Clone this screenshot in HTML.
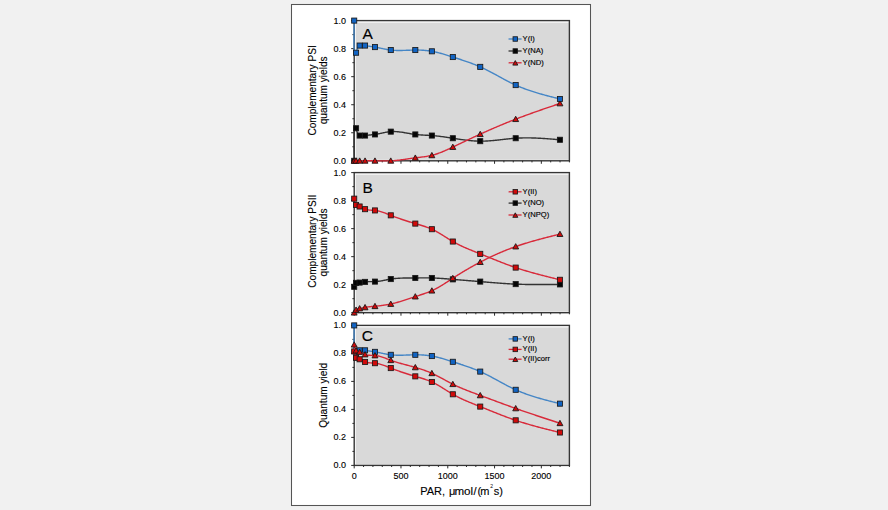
<!DOCTYPE html>
<html><head><meta charset="utf-8"><style>
html,body{margin:0;padding:0;background:#f1f1f1;}
body{width:888px;height:510px;overflow:hidden;position:relative;}
svg{position:absolute;left:0;top:0;}
text{font-family:"Liberation Sans",sans-serif;fill:#000;stroke:#000;stroke-width:0.12px;}
.tk{font-size:9px;}
.at{font-size:10.1px;}
.par{font-size:11px;}
.pl{font-size:15.5px;fill:#000;stroke-width:0.15px;}
.lg{font-size:7.6px;fill:#000;stroke-width:0.15px;}
</style></head><body>
<svg width="888" height="510" viewBox="0 0 888 510">
<rect x="291.5" y="4.5" width="299" height="501" fill="#ffffff" stroke="#555555" stroke-width="1.05"/>
<rect x="355.70" y="22.60" width="213.70" height="137.20" fill="#d9d9d9"/>
<rect x="354.20" y="20.60" width="215.20" height="140.20" fill="none" stroke="#353535" stroke-width="1.4"/>
<line x1="351.20" y1="160.80" x2="354.20" y2="160.80" stroke="#2a2a2a" stroke-width="1"/>
<text x="346.00" y="163.80" class="tk" text-anchor="end">0.0</text>
<line x1="352.40" y1="146.78" x2="354.20" y2="146.78" stroke="#2a2a2a" stroke-width="1"/>
<line x1="351.20" y1="132.76" x2="354.20" y2="132.76" stroke="#2a2a2a" stroke-width="1"/>
<text x="346.00" y="135.76" class="tk" text-anchor="end">0.2</text>
<line x1="352.40" y1="118.74" x2="354.20" y2="118.74" stroke="#2a2a2a" stroke-width="1"/>
<line x1="351.20" y1="104.72" x2="354.20" y2="104.72" stroke="#2a2a2a" stroke-width="1"/>
<text x="346.00" y="107.72" class="tk" text-anchor="end">0.4</text>
<line x1="352.40" y1="90.70" x2="354.20" y2="90.70" stroke="#2a2a2a" stroke-width="1"/>
<line x1="351.20" y1="76.68" x2="354.20" y2="76.68" stroke="#2a2a2a" stroke-width="1"/>
<text x="346.00" y="79.68" class="tk" text-anchor="end">0.6</text>
<line x1="352.40" y1="62.66" x2="354.20" y2="62.66" stroke="#2a2a2a" stroke-width="1"/>
<line x1="351.20" y1="48.64" x2="354.20" y2="48.64" stroke="#2a2a2a" stroke-width="1"/>
<text x="346.00" y="51.64" class="tk" text-anchor="end">0.8</text>
<line x1="352.40" y1="34.62" x2="354.20" y2="34.62" stroke="#2a2a2a" stroke-width="1"/>
<line x1="351.20" y1="20.60" x2="354.20" y2="20.60" stroke="#2a2a2a" stroke-width="1"/>
<text x="346.00" y="23.60" class="tk" text-anchor="end">1.0</text>
<line x1="354.20" y1="160.80" x2="354.20" y2="163.80" stroke="#2a2a2a" stroke-width="1"/>
<line x1="363.56" y1="160.80" x2="363.56" y2="162.40" stroke="#2a2a2a" stroke-width="1"/>
<line x1="372.91" y1="160.80" x2="372.91" y2="162.40" stroke="#2a2a2a" stroke-width="1"/>
<line x1="382.27" y1="160.80" x2="382.27" y2="162.40" stroke="#2a2a2a" stroke-width="1"/>
<line x1="391.63" y1="160.80" x2="391.63" y2="162.40" stroke="#2a2a2a" stroke-width="1"/>
<line x1="400.98" y1="160.80" x2="400.98" y2="163.80" stroke="#2a2a2a" stroke-width="1"/>
<line x1="410.34" y1="160.80" x2="410.34" y2="162.40" stroke="#2a2a2a" stroke-width="1"/>
<line x1="419.70" y1="160.80" x2="419.70" y2="162.40" stroke="#2a2a2a" stroke-width="1"/>
<line x1="429.05" y1="160.80" x2="429.05" y2="162.40" stroke="#2a2a2a" stroke-width="1"/>
<line x1="438.41" y1="160.80" x2="438.41" y2="162.40" stroke="#2a2a2a" stroke-width="1"/>
<line x1="447.77" y1="160.80" x2="447.77" y2="163.80" stroke="#2a2a2a" stroke-width="1"/>
<line x1="457.12" y1="160.80" x2="457.12" y2="162.40" stroke="#2a2a2a" stroke-width="1"/>
<line x1="466.48" y1="160.80" x2="466.48" y2="162.40" stroke="#2a2a2a" stroke-width="1"/>
<line x1="475.83" y1="160.80" x2="475.83" y2="162.40" stroke="#2a2a2a" stroke-width="1"/>
<line x1="485.19" y1="160.80" x2="485.19" y2="162.40" stroke="#2a2a2a" stroke-width="1"/>
<line x1="494.55" y1="160.80" x2="494.55" y2="163.80" stroke="#2a2a2a" stroke-width="1"/>
<line x1="503.90" y1="160.80" x2="503.90" y2="162.40" stroke="#2a2a2a" stroke-width="1"/>
<line x1="513.26" y1="160.80" x2="513.26" y2="162.40" stroke="#2a2a2a" stroke-width="1"/>
<line x1="522.62" y1="160.80" x2="522.62" y2="162.40" stroke="#2a2a2a" stroke-width="1"/>
<line x1="531.97" y1="160.80" x2="531.97" y2="162.40" stroke="#2a2a2a" stroke-width="1"/>
<line x1="541.33" y1="160.80" x2="541.33" y2="163.80" stroke="#2a2a2a" stroke-width="1"/>
<line x1="550.69" y1="160.80" x2="550.69" y2="162.40" stroke="#2a2a2a" stroke-width="1"/>
<line x1="560.04" y1="160.80" x2="560.04" y2="162.40" stroke="#2a2a2a" stroke-width="1"/>
<line x1="569.40" y1="160.80" x2="569.40" y2="162.40" stroke="#2a2a2a" stroke-width="1"/>
<rect x="355.70" y="174.60" width="213.70" height="137.10" fill="#d9d9d9"/>
<rect x="354.20" y="172.60" width="215.20" height="140.10" fill="none" stroke="#353535" stroke-width="1.4"/>
<line x1="351.20" y1="312.70" x2="354.20" y2="312.70" stroke="#2a2a2a" stroke-width="1"/>
<text x="346.00" y="315.70" class="tk" text-anchor="end">0.0</text>
<line x1="352.40" y1="298.69" x2="354.20" y2="298.69" stroke="#2a2a2a" stroke-width="1"/>
<line x1="351.20" y1="284.68" x2="354.20" y2="284.68" stroke="#2a2a2a" stroke-width="1"/>
<text x="346.00" y="287.68" class="tk" text-anchor="end">0.2</text>
<line x1="352.40" y1="270.67" x2="354.20" y2="270.67" stroke="#2a2a2a" stroke-width="1"/>
<line x1="351.20" y1="256.66" x2="354.20" y2="256.66" stroke="#2a2a2a" stroke-width="1"/>
<text x="346.00" y="259.66" class="tk" text-anchor="end">0.4</text>
<line x1="352.40" y1="242.65" x2="354.20" y2="242.65" stroke="#2a2a2a" stroke-width="1"/>
<line x1="351.20" y1="228.64" x2="354.20" y2="228.64" stroke="#2a2a2a" stroke-width="1"/>
<text x="346.00" y="231.64" class="tk" text-anchor="end">0.6</text>
<line x1="352.40" y1="214.63" x2="354.20" y2="214.63" stroke="#2a2a2a" stroke-width="1"/>
<line x1="351.20" y1="200.62" x2="354.20" y2="200.62" stroke="#2a2a2a" stroke-width="1"/>
<text x="346.00" y="203.62" class="tk" text-anchor="end">0.8</text>
<line x1="352.40" y1="186.61" x2="354.20" y2="186.61" stroke="#2a2a2a" stroke-width="1"/>
<line x1="351.20" y1="172.60" x2="354.20" y2="172.60" stroke="#2a2a2a" stroke-width="1"/>
<text x="346.00" y="175.60" class="tk" text-anchor="end">1.0</text>
<line x1="354.20" y1="312.70" x2="354.20" y2="315.70" stroke="#2a2a2a" stroke-width="1"/>
<line x1="363.56" y1="312.70" x2="363.56" y2="314.30" stroke="#2a2a2a" stroke-width="1"/>
<line x1="372.91" y1="312.70" x2="372.91" y2="314.30" stroke="#2a2a2a" stroke-width="1"/>
<line x1="382.27" y1="312.70" x2="382.27" y2="314.30" stroke="#2a2a2a" stroke-width="1"/>
<line x1="391.63" y1="312.70" x2="391.63" y2="314.30" stroke="#2a2a2a" stroke-width="1"/>
<line x1="400.98" y1="312.70" x2="400.98" y2="315.70" stroke="#2a2a2a" stroke-width="1"/>
<line x1="410.34" y1="312.70" x2="410.34" y2="314.30" stroke="#2a2a2a" stroke-width="1"/>
<line x1="419.70" y1="312.70" x2="419.70" y2="314.30" stroke="#2a2a2a" stroke-width="1"/>
<line x1="429.05" y1="312.70" x2="429.05" y2="314.30" stroke="#2a2a2a" stroke-width="1"/>
<line x1="438.41" y1="312.70" x2="438.41" y2="314.30" stroke="#2a2a2a" stroke-width="1"/>
<line x1="447.77" y1="312.70" x2="447.77" y2="315.70" stroke="#2a2a2a" stroke-width="1"/>
<line x1="457.12" y1="312.70" x2="457.12" y2="314.30" stroke="#2a2a2a" stroke-width="1"/>
<line x1="466.48" y1="312.70" x2="466.48" y2="314.30" stroke="#2a2a2a" stroke-width="1"/>
<line x1="475.83" y1="312.70" x2="475.83" y2="314.30" stroke="#2a2a2a" stroke-width="1"/>
<line x1="485.19" y1="312.70" x2="485.19" y2="314.30" stroke="#2a2a2a" stroke-width="1"/>
<line x1="494.55" y1="312.70" x2="494.55" y2="315.70" stroke="#2a2a2a" stroke-width="1"/>
<line x1="503.90" y1="312.70" x2="503.90" y2="314.30" stroke="#2a2a2a" stroke-width="1"/>
<line x1="513.26" y1="312.70" x2="513.26" y2="314.30" stroke="#2a2a2a" stroke-width="1"/>
<line x1="522.62" y1="312.70" x2="522.62" y2="314.30" stroke="#2a2a2a" stroke-width="1"/>
<line x1="531.97" y1="312.70" x2="531.97" y2="314.30" stroke="#2a2a2a" stroke-width="1"/>
<line x1="541.33" y1="312.70" x2="541.33" y2="315.70" stroke="#2a2a2a" stroke-width="1"/>
<line x1="550.69" y1="312.70" x2="550.69" y2="314.30" stroke="#2a2a2a" stroke-width="1"/>
<line x1="560.04" y1="312.70" x2="560.04" y2="314.30" stroke="#2a2a2a" stroke-width="1"/>
<line x1="569.40" y1="312.70" x2="569.40" y2="314.30" stroke="#2a2a2a" stroke-width="1"/>
<rect x="355.70" y="327.40" width="213.70" height="137.00" fill="#d9d9d9"/>
<rect x="354.20" y="325.40" width="215.20" height="140.00" fill="none" stroke="#353535" stroke-width="1.4"/>
<line x1="351.20" y1="465.40" x2="354.20" y2="465.40" stroke="#2a2a2a" stroke-width="1"/>
<text x="346.00" y="468.40" class="tk" text-anchor="end">0.0</text>
<line x1="352.40" y1="451.40" x2="354.20" y2="451.40" stroke="#2a2a2a" stroke-width="1"/>
<line x1="351.20" y1="437.40" x2="354.20" y2="437.40" stroke="#2a2a2a" stroke-width="1"/>
<text x="346.00" y="440.40" class="tk" text-anchor="end">0.2</text>
<line x1="352.40" y1="423.40" x2="354.20" y2="423.40" stroke="#2a2a2a" stroke-width="1"/>
<line x1="351.20" y1="409.40" x2="354.20" y2="409.40" stroke="#2a2a2a" stroke-width="1"/>
<text x="346.00" y="412.40" class="tk" text-anchor="end">0.4</text>
<line x1="352.40" y1="395.40" x2="354.20" y2="395.40" stroke="#2a2a2a" stroke-width="1"/>
<line x1="351.20" y1="381.40" x2="354.20" y2="381.40" stroke="#2a2a2a" stroke-width="1"/>
<text x="346.00" y="384.40" class="tk" text-anchor="end">0.6</text>
<line x1="352.40" y1="367.40" x2="354.20" y2="367.40" stroke="#2a2a2a" stroke-width="1"/>
<line x1="351.20" y1="353.40" x2="354.20" y2="353.40" stroke="#2a2a2a" stroke-width="1"/>
<text x="346.00" y="356.40" class="tk" text-anchor="end">0.8</text>
<line x1="352.40" y1="339.40" x2="354.20" y2="339.40" stroke="#2a2a2a" stroke-width="1"/>
<line x1="351.20" y1="325.40" x2="354.20" y2="325.40" stroke="#2a2a2a" stroke-width="1"/>
<text x="346.00" y="328.40" class="tk" text-anchor="end">1.0</text>
<line x1="354.20" y1="465.40" x2="354.20" y2="468.40" stroke="#2a2a2a" stroke-width="1"/>
<line x1="363.56" y1="465.40" x2="363.56" y2="467.00" stroke="#2a2a2a" stroke-width="1"/>
<line x1="372.91" y1="465.40" x2="372.91" y2="467.00" stroke="#2a2a2a" stroke-width="1"/>
<line x1="382.27" y1="465.40" x2="382.27" y2="467.00" stroke="#2a2a2a" stroke-width="1"/>
<line x1="391.63" y1="465.40" x2="391.63" y2="467.00" stroke="#2a2a2a" stroke-width="1"/>
<line x1="400.98" y1="465.40" x2="400.98" y2="468.40" stroke="#2a2a2a" stroke-width="1"/>
<line x1="410.34" y1="465.40" x2="410.34" y2="467.00" stroke="#2a2a2a" stroke-width="1"/>
<line x1="419.70" y1="465.40" x2="419.70" y2="467.00" stroke="#2a2a2a" stroke-width="1"/>
<line x1="429.05" y1="465.40" x2="429.05" y2="467.00" stroke="#2a2a2a" stroke-width="1"/>
<line x1="438.41" y1="465.40" x2="438.41" y2="467.00" stroke="#2a2a2a" stroke-width="1"/>
<line x1="447.77" y1="465.40" x2="447.77" y2="468.40" stroke="#2a2a2a" stroke-width="1"/>
<line x1="457.12" y1="465.40" x2="457.12" y2="467.00" stroke="#2a2a2a" stroke-width="1"/>
<line x1="466.48" y1="465.40" x2="466.48" y2="467.00" stroke="#2a2a2a" stroke-width="1"/>
<line x1="475.83" y1="465.40" x2="475.83" y2="467.00" stroke="#2a2a2a" stroke-width="1"/>
<line x1="485.19" y1="465.40" x2="485.19" y2="467.00" stroke="#2a2a2a" stroke-width="1"/>
<line x1="494.55" y1="465.40" x2="494.55" y2="468.40" stroke="#2a2a2a" stroke-width="1"/>
<line x1="503.90" y1="465.40" x2="503.90" y2="467.00" stroke="#2a2a2a" stroke-width="1"/>
<line x1="513.26" y1="465.40" x2="513.26" y2="467.00" stroke="#2a2a2a" stroke-width="1"/>
<line x1="522.62" y1="465.40" x2="522.62" y2="467.00" stroke="#2a2a2a" stroke-width="1"/>
<line x1="531.97" y1="465.40" x2="531.97" y2="467.00" stroke="#2a2a2a" stroke-width="1"/>
<line x1="541.33" y1="465.40" x2="541.33" y2="468.40" stroke="#2a2a2a" stroke-width="1"/>
<line x1="550.69" y1="465.40" x2="550.69" y2="467.00" stroke="#2a2a2a" stroke-width="1"/>
<line x1="560.04" y1="465.40" x2="560.04" y2="467.00" stroke="#2a2a2a" stroke-width="1"/>
<line x1="569.40" y1="465.40" x2="569.40" y2="467.00" stroke="#2a2a2a" stroke-width="1"/>
<text x="354.20" y="478.8" class="tk" text-anchor="middle">0</text>
<text x="400.98" y="478.8" class="tk" text-anchor="middle">500</text>
<text x="447.77" y="478.8" class="tk" text-anchor="middle">1000</text>
<text x="494.55" y="478.8" class="tk" text-anchor="middle">1500</text>
<text x="541.33" y="478.8" class="tk" text-anchor="middle">2000</text>
<path d="M354.20,160.80 L354.18,159.26 L354.16,157.72 L354.13,156.18 L354.11,154.65 L354.09,153.14 L354.07,151.63 L354.06,150.15 L354.04,148.68 L354.03,147.24 L354.02,145.82 L354.01,144.42 L354.01,143.06 L354.00,141.73 L354.00,140.44 L354.01,139.18 L354.02,137.97 L354.03,136.80 L354.05,135.67 L354.07,134.60 L354.10,133.57 L354.13,132.61 L354.17,131.69 L354.21,130.84 L354.26,130.06 L354.31,129.34 L354.38,128.68 L354.45,128.10 L354.52,127.59 L354.60,127.16 L354.69,126.81 L354.79,126.54 L354.90,126.36 L355.01,126.26 L355.14,126.26 L355.27,126.34 L355.41,126.53 L355.56,126.81 L355.72,127.19 L355.89,127.68 L356.07,128.27 L356.26,128.97 L356.47,129.75 L356.70,130.58 L356.97,131.43 L357.27,132.29 L357.62,133.11 L358.03,133.88 L358.49,134.56 L359.02,135.13 L359.63,135.56 L360.39,135.86 L361.24,135.98 L362.16,135.98 L363.11,135.88 L364.08,135.73 L365.05,135.56 L365.93,135.43 L366.80,135.31 L367.65,135.21 L368.49,135.11 L369.32,135.03 L370.14,134.95 L370.95,134.88 L371.76,134.80 L372.57,134.73 L373.37,134.64 L374.17,134.55 L374.97,134.44 L375.75,134.33 L376.53,134.20 L377.31,134.06 L378.09,133.91 L378.87,133.75 L379.66,133.59 L380.45,133.43 L381.24,133.26 L382.03,133.09 L382.82,132.92 L383.61,132.75 L384.41,132.59 L385.20,132.43 L386.00,132.28 L386.80,132.14 L387.59,132.01 L388.39,131.90 L389.19,131.79 L389.99,131.71 L390.78,131.64 L391.60,131.59 L392.42,131.55 L393.23,131.54 L394.05,131.54 L394.87,131.56 L395.68,131.60 L396.50,131.65 L397.32,131.71 L398.13,131.78 L398.95,131.87 L399.77,131.96 L400.58,132.07 L401.40,132.18 L402.21,132.30 L403.03,132.43 L403.85,132.56 L404.66,132.70 L405.48,132.84 L406.30,132.99 L407.11,133.13 L407.93,133.28 L408.75,133.42 L409.57,133.56 L410.39,133.70 L411.20,133.84 L412.02,133.97 L412.84,134.10 L413.66,134.22 L414.48,134.34 L415.30,134.44 L416.13,134.54 L416.95,134.63 L417.78,134.71 L418.61,134.78 L419.44,134.85 L420.27,134.91 L421.09,134.97 L421.92,135.02 L422.75,135.06 L423.58,135.11 L424.41,135.15 L425.24,135.19 L426.07,135.23 L426.90,135.28 L427.72,135.32 L428.55,135.36 L429.38,135.41 L430.21,135.45 L431.03,135.51 L431.86,135.56 L432.67,135.62 L433.48,135.69 L434.28,135.76 L435.09,135.83 L435.90,135.91 L436.71,136.00 L437.51,136.08 L438.32,136.17 L439.13,136.27 L439.93,136.37 L440.74,136.47 L441.54,136.57 L442.35,136.68 L443.15,136.79 L443.96,136.90 L444.76,137.01 L445.57,137.13 L446.37,137.24 L447.18,137.36 L447.99,137.48 L448.79,137.61 L449.60,137.73 L450.40,137.85 L451.21,137.98 L452.01,138.10 L452.82,138.23 L453.62,138.35 L454.43,138.48 L455.23,138.60 L456.04,138.73 L456.84,138.85 L457.65,138.98 L458.45,139.10 L459.26,139.22 L460.06,139.34 L460.87,139.46 L461.67,139.57 L462.48,139.68 L463.29,139.80 L464.09,139.90 L464.90,140.01 L465.70,140.11 L466.51,140.21 L467.32,140.30 L468.12,140.40 L468.93,140.48 L469.74,140.57 L470.54,140.65 L471.35,140.72 L472.16,140.79 L472.97,140.85 L473.77,140.91 L474.58,140.97 L475.39,141.02 L476.20,141.06 L477.00,141.09 L477.81,141.12 L478.62,141.15 L479.42,141.16 L480.23,141.17 L481.04,141.17 L481.84,141.17 L482.65,141.16 L483.45,141.14 L484.26,141.12 L485.06,141.09 L485.87,141.05 L486.67,141.01 L487.48,140.96 L488.29,140.91 L489.09,140.86 L489.90,140.80 L490.70,140.73 L491.51,140.67 L492.31,140.60 L493.12,140.52 L493.92,140.45 L494.73,140.37 L495.54,140.28 L496.34,140.20 L497.15,140.11 L497.95,140.03 L498.76,139.94 L499.57,139.85 L500.37,139.76 L501.18,139.67 L501.98,139.57 L502.79,139.48 L503.60,139.39 L504.40,139.30 L505.21,139.21 L506.01,139.12 L506.82,139.03 L507.63,138.95 L508.43,138.86 L509.24,138.78 L510.05,138.70 L510.85,138.62 L511.66,138.55 L512.47,138.48 L513.27,138.41 L514.08,138.34 L514.89,138.28 L515.69,138.23 L516.50,138.18 L517.30,138.13 L518.10,138.09 L518.91,138.05 L519.71,138.01 L520.52,137.98 L521.32,137.96 L522.12,137.93 L522.93,137.92 L523.73,137.90 L524.54,137.89 L525.34,137.88 L526.14,137.88 L526.95,137.88 L527.75,137.88 L528.56,137.89 L529.36,137.89 L530.17,137.91 L530.97,137.92 L531.77,137.94 L532.58,137.96 L533.38,137.98 L534.19,138.01 L534.99,138.04 L535.80,138.07 L536.60,138.10 L537.41,138.14 L538.21,138.18 L539.02,138.22 L539.82,138.26 L540.63,138.30 L541.43,138.35 L542.24,138.40 L543.04,138.45 L543.85,138.50 L544.65,138.55 L545.46,138.61 L546.26,138.67 L547.07,138.72 L547.87,138.78 L548.68,138.84 L549.48,138.90 L550.29,138.97 L551.09,139.03 L551.90,139.10 L552.70,139.16 L553.51,139.23 L554.31,139.29 L555.12,139.36 L555.92,139.43 L556.73,139.50 L557.53,139.56 L558.34,139.63 L559.14,139.70 L559.95,139.77" fill="none" stroke="#333333" stroke-width="1.4"/>
<rect x="351.65" y="158.25" width="5.10" height="5.10" fill="#050505" stroke="#1a1a1a" stroke-width="0.85"/>
<rect x="353.52" y="125.72" width="5.10" height="5.10" fill="#050505" stroke="#1a1a1a" stroke-width="0.85"/>
<rect x="357.08" y="133.01" width="5.10" height="5.10" fill="#050505" stroke="#1a1a1a" stroke-width="0.85"/>
<rect x="362.50" y="133.01" width="5.10" height="5.10" fill="#050505" stroke="#1a1a1a" stroke-width="0.85"/>
<rect x="372.42" y="131.89" width="5.10" height="5.10" fill="#050505" stroke="#1a1a1a" stroke-width="0.85"/>
<rect x="388.23" y="129.09" width="5.10" height="5.10" fill="#050505" stroke="#1a1a1a" stroke-width="0.85"/>
<rect x="412.75" y="131.89" width="5.10" height="5.10" fill="#050505" stroke="#1a1a1a" stroke-width="0.85"/>
<rect x="429.31" y="133.01" width="5.10" height="5.10" fill="#050505" stroke="#1a1a1a" stroke-width="0.85"/>
<rect x="450.27" y="135.68" width="5.10" height="5.10" fill="#050505" stroke="#1a1a1a" stroke-width="0.85"/>
<rect x="477.68" y="138.62" width="5.10" height="5.10" fill="#050505" stroke="#1a1a1a" stroke-width="0.85"/>
<rect x="513.14" y="135.68" width="5.10" height="5.10" fill="#050505" stroke="#1a1a1a" stroke-width="0.85"/>
<rect x="557.40" y="137.22" width="5.10" height="5.10" fill="#050505" stroke="#1a1a1a" stroke-width="0.85"/>
<path d="M354.20,160.80 L355.14,160.80 L356.07,160.80 L356.96,160.80 L357.85,160.80 L358.74,160.80 L359.63,160.80 L360.53,160.80 L361.44,160.80 L362.34,160.80 L363.24,160.80 L364.15,160.80 L365.05,160.80 L365.88,160.80 L366.71,160.80 L367.53,160.79 L368.36,160.79 L369.19,160.79 L370.01,160.79 L370.84,160.78 L371.66,160.78 L372.49,160.79 L373.32,160.79 L374.14,160.79 L374.97,160.80 L375.80,160.81 L376.64,160.82 L377.47,160.83 L378.30,160.85 L379.14,160.86 L379.97,160.87 L380.80,160.89 L381.64,160.90 L382.47,160.91 L383.30,160.92 L384.14,160.92 L384.97,160.92 L385.80,160.92 L386.63,160.92 L387.46,160.91 L388.29,160.89 L389.12,160.87 L389.95,160.84 L390.78,160.80 L391.60,160.76 L392.42,160.71 L393.24,160.65 L394.06,160.59 L394.88,160.52 L395.69,160.44 L396.51,160.36 L397.33,160.28 L398.15,160.19 L398.96,160.09 L399.78,160.00 L400.59,159.89 L401.41,159.79 L402.23,159.68 L403.04,159.57 L403.86,159.46 L404.67,159.35 L405.49,159.23 L406.30,159.11 L407.12,159.00 L407.94,158.88 L408.75,158.76 L409.57,158.64 L410.39,158.53 L411.20,158.41 L412.02,158.29 L412.84,158.18 L413.66,158.07 L414.48,157.96 L415.30,157.86 L416.13,157.75 L416.97,157.65 L417.80,157.55 L418.64,157.45 L419.47,157.35 L420.31,157.25 L421.14,157.14 L421.98,157.04 L422.81,156.93 L423.64,156.82 L424.47,156.71 L425.30,156.59 L426.13,156.46 L426.95,156.32 L427.78,156.18 L428.60,156.03 L429.42,155.87 L430.23,155.70 L431.05,155.52 L431.86,155.33 L432.64,155.14 L433.41,154.93 L434.18,154.71 L434.95,154.49 L435.71,154.25 L436.48,154.00 L437.24,153.75 L437.99,153.49 L438.75,153.21 L439.50,152.93 L440.26,152.65 L441.01,152.35 L441.75,152.06 L442.50,151.75 L443.25,151.44 L443.99,151.12 L444.73,150.80 L445.47,150.47 L446.21,150.14 L446.95,149.81 L447.69,149.47 L448.42,149.13 L449.16,148.79 L449.89,148.45 L450.62,148.10 L451.35,147.76 L452.09,147.41 L452.82,147.06 L453.56,146.71 L454.30,146.35 L455.05,146.00 L455.79,145.65 L456.53,145.29 L457.27,144.94 L458.01,144.59 L458.76,144.23 L459.50,143.88 L460.24,143.53 L460.98,143.18 L461.72,142.82 L462.46,142.47 L463.20,142.12 L463.94,141.77 L464.68,141.42 L465.42,141.07 L466.16,140.72 L466.89,140.37 L467.63,140.02 L468.37,139.67 L469.11,139.32 L469.85,138.97 L470.59,138.63 L471.33,138.28 L472.07,137.93 L472.81,137.59 L473.55,137.24 L474.29,136.90 L475.04,136.55 L475.78,136.21 L476.52,135.87 L477.26,135.52 L478.00,135.18 L478.75,134.84 L479.49,134.50 L480.23,134.16 L480.96,133.83 L481.69,133.50 L482.42,133.17 L483.15,132.84 L483.88,132.51 L484.61,132.18 L485.34,131.85 L486.08,131.53 L486.81,131.20 L487.54,130.87 L488.27,130.55 L489.01,130.23 L489.74,129.90 L490.48,129.58 L491.21,129.26 L491.95,128.94 L492.68,128.62 L493.42,128.30 L494.15,127.98 L494.89,127.66 L495.63,127.35 L496.37,127.03 L497.11,126.72 L497.84,126.40 L498.58,126.09 L499.32,125.78 L500.06,125.47 L500.80,125.16 L501.54,124.85 L502.28,124.54 L503.03,124.23 L503.77,123.93 L504.51,123.62 L505.25,123.32 L506.00,123.01 L506.74,122.71 L507.48,122.41 L508.23,122.11 L508.97,121.81 L509.72,121.51 L510.46,121.21 L511.21,120.92 L511.96,120.62 L512.70,120.33 L513.45,120.03 L514.20,119.74 L514.95,119.45 L515.69,119.16 L516.45,118.87 L517.21,118.58 L517.96,118.29 L518.72,118.00 L519.48,117.71 L520.23,117.43 L520.99,117.14 L521.75,116.86 L522.51,116.57 L523.27,116.29 L524.03,116.01 L524.79,115.73 L525.55,115.45 L526.31,115.17 L527.07,114.89 L527.83,114.61 L528.59,114.34 L529.35,114.06 L530.11,113.79 L530.87,113.51 L531.63,113.24 L532.40,112.97 L533.16,112.69 L533.92,112.42 L534.68,112.15 L535.45,111.88 L536.21,111.61 L536.98,111.34 L537.74,111.08 L538.50,110.81 L539.27,110.54 L540.03,110.27 L540.80,110.01 L541.56,109.74 L542.33,109.48 L543.09,109.21 L543.86,108.95 L544.62,108.68 L545.39,108.42 L546.15,108.16 L546.92,107.89 L547.69,107.63 L548.45,107.37 L549.22,107.11 L549.98,106.85 L550.75,106.58 L551.52,106.32 L552.28,106.06 L553.05,105.80 L553.82,105.54 L554.58,105.28 L555.35,105.02 L556.12,104.76 L556.88,104.50 L557.65,104.24 L558.42,103.98 L559.18,103.72 L559.95,103.46" fill="none" stroke="#d82a3a" stroke-width="1.4"/>
<path d="M354.20,157.88 L357.15,163.19 L351.25,163.19 Z" fill="#d10a0a" stroke="#1a1a1a" stroke-width="0.9"/>
<path d="M356.07,157.88 L359.02,163.19 L353.12,163.19 Z" fill="#d10a0a" stroke="#1a1a1a" stroke-width="0.9"/>
<path d="M359.63,157.88 L362.58,163.19 L356.68,163.19 Z" fill="#d10a0a" stroke="#1a1a1a" stroke-width="0.9"/>
<path d="M365.05,157.88 L368.00,163.19 L362.10,163.19 Z" fill="#d10a0a" stroke="#1a1a1a" stroke-width="0.9"/>
<path d="M374.97,157.88 L377.92,163.19 L372.02,163.19 Z" fill="#d10a0a" stroke="#1a1a1a" stroke-width="0.9"/>
<path d="M390.78,157.88 L393.73,163.19 L387.83,163.19 Z" fill="#d10a0a" stroke="#1a1a1a" stroke-width="0.9"/>
<path d="M415.30,154.94 L418.25,160.25 L412.35,160.25 Z" fill="#d10a0a" stroke="#1a1a1a" stroke-width="0.9"/>
<path d="M431.86,152.41 L434.81,157.72 L428.91,157.72 Z" fill="#d10a0a" stroke="#1a1a1a" stroke-width="0.9"/>
<path d="M452.82,144.14 L455.77,149.45 L449.87,149.45 Z" fill="#d10a0a" stroke="#1a1a1a" stroke-width="0.9"/>
<path d="M480.23,131.24 L483.18,136.55 L477.28,136.55 Z" fill="#d10a0a" stroke="#1a1a1a" stroke-width="0.9"/>
<path d="M515.69,116.24 L518.64,121.55 L512.74,121.55 Z" fill="#d10a0a" stroke="#1a1a1a" stroke-width="0.9"/>
<path d="M559.95,100.54 L562.90,105.85 L557.00,105.85 Z" fill="#d10a0a" stroke="#1a1a1a" stroke-width="0.9"/>
<path d="M354.20,20.60 L354.18,22.12 L354.15,23.64 L354.13,25.15 L354.10,26.66 L354.08,28.15 L354.06,29.63 L354.04,31.09 L354.03,32.54 L354.01,33.96 L354.00,35.36 L353.99,36.74 L353.98,38.08 L353.98,39.39 L353.98,40.67 L353.98,41.90 L353.99,43.10 L354.00,44.25 L354.02,45.36 L354.04,46.42 L354.07,47.43 L354.10,48.39 L354.13,49.29 L354.18,50.12 L354.23,50.90 L354.28,51.61 L354.34,52.26 L354.41,52.83 L354.49,53.34 L354.57,53.76 L354.67,54.11 L354.77,54.38 L354.87,54.56 L354.99,54.66 L355.12,54.67 L355.25,54.59 L355.40,54.41 L355.55,54.14 L355.71,53.76 L355.89,53.29 L356.07,52.71 L356.29,51.95 L356.53,51.09 L356.80,50.18 L357.11,49.25 L357.48,48.33 L357.90,47.47 L358.39,46.69 L358.97,46.04 L359.63,45.56 L360.40,45.25 L361.25,45.12 L362.16,45.12 L363.11,45.22 L364.08,45.38 L365.05,45.56 L365.94,45.71 L366.80,45.86 L367.66,45.99 L368.50,46.12 L369.33,46.25 L370.15,46.37 L370.96,46.48 L371.77,46.60 L372.57,46.72 L373.37,46.84 L374.17,46.96 L374.97,47.10 L375.74,47.23 L376.52,47.38 L377.30,47.53 L378.08,47.68 L378.86,47.84 L379.65,48.00 L380.43,48.17 L381.22,48.33 L382.01,48.50 L382.80,48.66 L383.60,48.83 L384.39,48.99 L385.19,49.14 L385.99,49.30 L386.78,49.44 L387.58,49.58 L388.38,49.71 L389.18,49.83 L389.98,49.94 L390.78,50.04 L391.60,50.13 L392.41,50.21 L393.23,50.28 L394.04,50.33 L394.86,50.38 L395.67,50.42 L396.49,50.44 L397.30,50.46 L398.12,50.48 L398.94,50.48 L399.75,50.48 L400.57,50.47 L401.39,50.46 L402.20,50.44 L403.02,50.42 L403.84,50.40 L404.65,50.37 L405.47,50.34 L406.29,50.31 L407.11,50.28 L407.93,50.25 L408.74,50.22 L409.56,50.19 L410.38,50.16 L411.20,50.13 L412.02,50.10 L412.84,50.08 L413.66,50.06 L414.48,50.05 L415.30,50.04 L416.13,50.04 L416.96,50.04 L417.80,50.05 L418.63,50.07 L419.46,50.09 L420.30,50.12 L421.13,50.15 L421.96,50.20 L422.79,50.24 L423.62,50.30 L424.45,50.37 L425.28,50.44 L426.11,50.52 L426.93,50.60 L427.76,50.70 L428.58,50.80 L429.40,50.92 L430.22,51.04 L431.04,51.17 L431.86,51.30 L432.65,51.45 L433.44,51.60 L434.23,51.76 L435.01,51.92 L435.80,52.09 L436.58,52.27 L437.36,52.46 L438.14,52.65 L438.92,52.85 L439.70,53.06 L440.47,53.27 L441.25,53.48 L442.03,53.70 L442.80,53.92 L443.57,54.15 L444.35,54.38 L445.12,54.61 L445.89,54.85 L446.66,55.09 L447.43,55.33 L448.20,55.57 L448.97,55.82 L449.74,56.06 L450.51,56.31 L451.28,56.56 L452.05,56.80 L452.82,57.05 L453.59,57.30 L454.36,57.55 L455.14,57.80 L455.91,58.04 L456.68,58.29 L457.45,58.54 L458.23,58.79 L459.00,59.04 L459.77,59.29 L460.54,59.54 L461.31,59.79 L462.08,60.05 L462.85,60.30 L463.62,60.56 L464.39,60.81 L465.15,61.07 L465.92,61.34 L466.69,61.60 L467.45,61.86 L468.21,62.13 L468.98,62.40 L469.74,62.68 L470.50,62.95 L471.25,63.23 L472.01,63.51 L472.77,63.80 L473.52,64.09 L474.27,64.38 L475.02,64.68 L475.77,64.98 L476.52,65.28 L477.27,65.59 L478.01,65.90 L478.75,66.22 L479.49,66.54 L480.23,66.87 L480.97,67.20 L481.71,67.54 L482.45,67.88 L483.18,68.23 L483.92,68.58 L484.65,68.93 L485.38,69.29 L486.11,69.65 L486.83,70.02 L487.56,70.38 L488.28,70.76 L489.01,71.13 L489.73,71.51 L490.45,71.88 L491.17,72.27 L491.89,72.65 L492.61,73.03 L493.32,73.42 L494.04,73.81 L494.76,74.20 L495.47,74.59 L496.19,74.98 L496.91,75.37 L497.62,75.76 L498.34,76.15 L499.05,76.54 L499.77,76.94 L500.48,77.33 L501.20,77.72 L501.92,78.11 L502.63,78.50 L503.35,78.88 L504.07,79.27 L504.79,79.65 L505.50,80.04 L506.22,80.42 L506.95,80.79 L507.67,81.17 L508.39,81.54 L509.11,81.91 L509.84,82.28 L510.56,82.65 L511.29,83.01 L512.02,83.37 L512.75,83.72 L513.49,84.07 L514.22,84.41 L514.96,84.76 L515.69,85.09 L516.43,85.42 L517.18,85.75 L517.92,86.07 L518.66,86.39 L519.41,86.71 L520.16,87.01 L520.91,87.32 L521.67,87.62 L522.42,87.92 L523.18,88.21 L523.93,88.50 L524.69,88.78 L525.45,89.06 L526.22,89.34 L526.98,89.62 L527.75,89.89 L528.51,90.15 L529.28,90.42 L530.05,90.68 L530.82,90.93 L531.59,91.19 L532.37,91.44 L533.14,91.69 L533.92,91.93 L534.69,92.17 L535.47,92.41 L536.25,92.65 L537.03,92.89 L537.81,93.12 L538.59,93.35 L539.38,93.57 L540.16,93.80 L540.95,94.02 L541.73,94.24 L542.52,94.46 L543.30,94.68 L544.09,94.90 L544.88,95.11 L545.67,95.32 L546.46,95.53 L547.25,95.74 L548.04,95.95 L548.83,96.16 L549.63,96.37 L550.42,96.57 L551.21,96.77 L552.00,96.98 L552.80,97.18 L553.59,97.38 L554.39,97.58 L555.18,97.78 L555.97,97.98 L556.77,98.18 L557.56,98.38 L558.36,98.58 L559.15,98.77 L559.95,98.97" fill="none" stroke="#4586c6" stroke-width="1.4"/>
<rect x="351.65" y="18.05" width="5.10" height="5.10" fill="#1164c4" stroke="#1a1a1a" stroke-width="0.85"/>
<rect x="353.52" y="50.16" width="5.10" height="5.10" fill="#1164c4" stroke="#1a1a1a" stroke-width="0.85"/>
<rect x="357.08" y="43.01" width="5.10" height="5.10" fill="#1164c4" stroke="#1a1a1a" stroke-width="0.85"/>
<rect x="362.50" y="43.01" width="5.10" height="5.10" fill="#1164c4" stroke="#1a1a1a" stroke-width="0.85"/>
<rect x="372.42" y="44.55" width="5.10" height="5.10" fill="#1164c4" stroke="#1a1a1a" stroke-width="0.85"/>
<rect x="388.23" y="47.49" width="5.10" height="5.10" fill="#1164c4" stroke="#1a1a1a" stroke-width="0.85"/>
<rect x="412.75" y="47.49" width="5.10" height="5.10" fill="#1164c4" stroke="#1a1a1a" stroke-width="0.85"/>
<rect x="429.31" y="48.75" width="5.10" height="5.10" fill="#1164c4" stroke="#1a1a1a" stroke-width="0.85"/>
<rect x="450.27" y="54.50" width="5.10" height="5.10" fill="#1164c4" stroke="#1a1a1a" stroke-width="0.85"/>
<rect x="477.68" y="64.32" width="5.10" height="5.10" fill="#1164c4" stroke="#1a1a1a" stroke-width="0.85"/>
<rect x="513.14" y="82.54" width="5.10" height="5.10" fill="#1164c4" stroke="#1a1a1a" stroke-width="0.85"/>
<rect x="557.40" y="96.42" width="5.10" height="5.10" fill="#1164c4" stroke="#1a1a1a" stroke-width="0.85"/>
<path d="M354.20,286.78 L354.44,285.79 L354.71,284.86 L355.05,284.02 L355.49,283.34 L356.07,282.86 L356.83,282.60 L357.71,282.53 L358.66,282.55 L359.63,282.58 L360.59,282.55 L361.51,282.46 L362.41,282.32 L363.30,282.17 L364.17,282.01 L365.05,281.88 L365.86,281.78 L366.67,281.72 L367.49,281.67 L368.31,281.64 L369.14,281.63 L369.97,281.63 L370.80,281.63 L371.63,281.64 L372.47,281.64 L373.30,281.64 L374.14,281.63 L374.97,281.60 L375.77,281.55 L376.58,281.49 L377.37,281.41 L378.17,281.32 L378.97,281.22 L379.76,281.10 L380.55,280.98 L381.34,280.84 L382.13,280.70 L382.92,280.56 L383.70,280.40 L384.49,280.25 L385.28,280.10 L386.06,279.94 L386.85,279.79 L387.63,279.63 L388.42,279.48 L389.21,279.34 L390.00,279.20 L390.78,279.08 L391.59,278.95 L392.40,278.84 L393.21,278.74 L394.02,278.64 L394.83,278.55 L395.64,278.48 L396.46,278.40 L397.27,278.34 L398.09,278.28 L398.90,278.23 L399.72,278.18 L400.54,278.14 L401.35,278.11 L402.17,278.08 L402.99,278.05 L403.81,278.03 L404.63,278.01 L405.45,278.00 L406.27,277.99 L407.09,277.98 L407.91,277.97 L408.73,277.97 L409.55,277.97 L410.37,277.96 L411.19,277.96 L412.02,277.96 L412.84,277.96 L413.66,277.96 L414.48,277.96 L415.30,277.96 L416.13,277.95 L416.96,277.95 L417.79,277.94 L418.62,277.93 L419.45,277.92 L420.27,277.92 L421.10,277.91 L421.93,277.90 L422.76,277.90 L423.59,277.89 L424.42,277.89 L425.24,277.88 L426.07,277.88 L426.90,277.89 L427.72,277.89 L428.55,277.90 L429.38,277.91 L430.21,277.92 L431.03,277.94 L431.86,277.96 L432.67,277.98 L433.47,278.01 L434.28,278.04 L435.09,278.07 L435.89,278.11 L436.70,278.15 L437.50,278.19 L438.31,278.24 L439.12,278.29 L439.92,278.34 L440.73,278.39 L441.54,278.45 L442.34,278.50 L443.15,278.56 L443.95,278.62 L444.76,278.69 L445.57,278.75 L446.37,278.82 L447.18,278.88 L447.98,278.95 L448.79,279.02 L449.60,279.08 L450.40,279.15 L451.21,279.22 L452.01,279.29 L452.82,279.36 L453.62,279.42 L454.43,279.49 L455.24,279.56 L456.04,279.63 L456.85,279.69 L457.66,279.76 L458.46,279.83 L459.27,279.89 L460.08,279.96 L460.88,280.03 L461.69,280.09 L462.50,280.16 L463.30,280.22 L464.11,280.29 L464.91,280.35 L465.72,280.42 L466.53,280.48 L467.33,280.55 L468.14,280.61 L468.95,280.68 L469.75,280.74 L470.56,280.81 L471.36,280.88 L472.17,280.94 L472.98,281.01 L473.78,281.07 L474.59,281.14 L475.39,281.20 L476.20,281.27 L477.01,281.33 L477.81,281.40 L478.62,281.47 L479.43,281.53 L480.23,281.60 L481.04,281.66 L481.84,281.73 L482.65,281.80 L483.45,281.86 L484.26,281.93 L485.06,282.00 L485.87,282.06 L486.68,282.13 L487.48,282.20 L488.29,282.26 L489.09,282.33 L489.90,282.40 L490.70,282.46 L491.51,282.53 L492.31,282.59 L493.12,282.66 L493.92,282.72 L494.73,282.78 L495.54,282.85 L496.34,282.91 L497.15,282.97 L497.95,283.03 L498.76,283.09 L499.57,283.15 L500.37,283.21 L501.18,283.27 L501.98,283.33 L502.79,283.38 L503.60,283.44 L504.40,283.49 L505.21,283.54 L506.01,283.60 L506.82,283.65 L507.63,283.70 L508.43,283.74 L509.24,283.79 L510.05,283.84 L510.85,283.88 L511.66,283.93 L512.47,283.97 L513.27,284.01 L514.08,284.05 L514.89,284.08 L515.69,284.12 L516.50,284.15 L517.30,284.19 L518.10,284.22 L518.91,284.25 L519.71,284.27 L520.52,284.30 L521.32,284.32 L522.12,284.35 L522.93,284.37 L523.73,284.39 L524.54,284.41 L525.34,284.43 L526.15,284.45 L526.95,284.46 L527.75,284.48 L528.56,284.49 L529.36,284.50 L530.17,284.51 L530.97,284.52 L531.78,284.53 L532.58,284.54 L533.39,284.54 L534.19,284.55 L534.99,284.56 L535.80,284.56 L536.60,284.56 L537.41,284.56 L538.21,284.57 L539.02,284.57 L539.82,284.57 L540.63,284.57 L541.43,284.56 L542.24,284.56 L543.04,284.56 L543.85,284.55 L544.65,284.55 L545.46,284.55 L546.26,284.54 L547.07,284.54 L547.87,284.53 L548.68,284.52 L549.48,284.52 L550.29,284.51 L551.09,284.50 L551.90,284.49 L552.70,284.48 L553.51,284.48 L554.31,284.47 L555.12,284.46 L555.92,284.45 L556.73,284.44 L557.53,284.43 L558.34,284.42 L559.14,284.41 L559.95,284.40" fill="none" stroke="#333333" stroke-width="1.4"/>
<rect x="351.65" y="284.23" width="5.10" height="5.10" fill="#050505" stroke="#1a1a1a" stroke-width="0.85"/>
<rect x="353.52" y="280.31" width="5.10" height="5.10" fill="#050505" stroke="#1a1a1a" stroke-width="0.85"/>
<rect x="357.08" y="280.03" width="5.10" height="5.10" fill="#050505" stroke="#1a1a1a" stroke-width="0.85"/>
<rect x="362.50" y="279.33" width="5.10" height="5.10" fill="#050505" stroke="#1a1a1a" stroke-width="0.85"/>
<rect x="372.42" y="279.05" width="5.10" height="5.10" fill="#050505" stroke="#1a1a1a" stroke-width="0.85"/>
<rect x="388.23" y="276.53" width="5.10" height="5.10" fill="#050505" stroke="#1a1a1a" stroke-width="0.85"/>
<rect x="412.75" y="275.41" width="5.10" height="5.10" fill="#050505" stroke="#1a1a1a" stroke-width="0.85"/>
<rect x="429.31" y="275.41" width="5.10" height="5.10" fill="#050505" stroke="#1a1a1a" stroke-width="0.85"/>
<rect x="450.27" y="276.81" width="5.10" height="5.10" fill="#050505" stroke="#1a1a1a" stroke-width="0.85"/>
<rect x="477.68" y="279.05" width="5.10" height="5.10" fill="#050505" stroke="#1a1a1a" stroke-width="0.85"/>
<rect x="513.14" y="281.57" width="5.10" height="5.10" fill="#050505" stroke="#1a1a1a" stroke-width="0.85"/>
<rect x="557.40" y="281.85" width="5.10" height="5.10" fill="#050505" stroke="#1a1a1a" stroke-width="0.85"/>
<path d="M354.20,198.66 L354.26,199.60 L354.34,200.53 L354.46,201.43 L354.62,202.28 L354.84,203.08 L355.15,203.80 L355.55,204.43 L356.07,204.96 L356.83,205.45 L357.72,205.83 L358.67,206.16 L359.63,206.50 L360.45,206.86 L361.24,207.24 L362.01,207.65 L362.77,208.07 L363.52,208.47 L364.28,208.84 L365.05,209.17 L365.82,209.43 L366.60,209.63 L367.41,209.80 L368.22,209.92 L369.05,210.02 L369.88,210.09 L370.73,210.15 L371.58,210.20 L372.43,210.24 L373.28,210.29 L374.13,210.35 L374.97,210.43 L375.80,210.53 L376.63,210.65 L377.45,210.80 L378.26,210.97 L379.07,211.16 L379.87,211.36 L380.67,211.59 L381.46,211.82 L382.25,212.07 L383.04,212.34 L383.82,212.61 L384.60,212.89 L385.38,213.19 L386.15,213.48 L386.92,213.79 L387.70,214.09 L388.47,214.40 L389.24,214.71 L390.01,215.02 L390.78,215.33 L391.54,215.63 L392.29,215.92 L393.05,216.21 L393.81,216.50 L394.56,216.79 L395.32,217.07 L396.08,217.35 L396.84,217.62 L397.60,217.90 L398.36,218.17 L399.12,218.44 L399.89,218.70 L400.65,218.97 L401.41,219.23 L402.18,219.49 L402.94,219.74 L403.71,220.00 L404.48,220.25 L405.25,220.50 L406.01,220.75 L406.78,221.00 L407.55,221.24 L408.32,221.48 L409.10,221.72 L409.87,221.96 L410.64,222.20 L411.42,222.44 L412.19,222.67 L412.97,222.90 L413.74,223.14 L414.52,223.37 L415.30,223.60 L416.10,223.83 L416.90,224.07 L417.71,224.30 L418.51,224.54 L419.31,224.77 L420.11,225.01 L420.91,225.25 L421.71,225.49 L422.51,225.74 L423.31,225.99 L424.10,226.25 L424.89,226.51 L425.68,226.77 L426.47,227.05 L427.25,227.33 L428.03,227.62 L428.80,227.92 L429.57,228.22 L430.34,228.54 L431.10,228.86 L431.86,229.20 L432.59,229.54 L433.32,229.89 L434.04,230.25 L434.76,230.61 L435.47,230.99 L436.18,231.37 L436.89,231.77 L437.59,232.16 L438.29,232.57 L438.99,232.98 L439.69,233.40 L440.38,233.82 L441.07,234.24 L441.76,234.67 L442.45,235.10 L443.14,235.53 L443.83,235.97 L444.52,236.40 L445.20,236.84 L445.89,237.28 L446.58,237.71 L447.26,238.15 L447.95,238.58 L448.64,239.02 L449.33,239.44 L450.02,239.87 L450.72,240.29 L451.42,240.71 L452.12,241.12 L452.82,241.53 L453.52,241.93 L454.23,242.33 L454.95,242.72 L455.66,243.10 L456.38,243.48 L457.10,243.86 L457.82,244.22 L458.55,244.59 L459.28,244.95 L460.01,245.30 L460.74,245.65 L461.47,246.00 L462.21,246.34 L462.95,246.68 L463.69,247.02 L464.43,247.35 L465.17,247.68 L465.92,248.00 L466.66,248.33 L467.41,248.65 L468.16,248.97 L468.91,249.28 L469.66,249.59 L470.41,249.91 L471.16,250.22 L471.92,250.52 L472.67,250.83 L473.43,251.14 L474.18,251.44 L474.94,251.74 L475.69,252.05 L476.45,252.35 L477.21,252.65 L477.96,252.95 L478.72,253.25 L479.48,253.56 L480.23,253.86 L480.99,254.16 L481.74,254.46 L482.49,254.76 L483.24,255.07 L483.99,255.37 L484.75,255.68 L485.50,255.98 L486.25,256.28 L487.00,256.59 L487.75,256.89 L488.50,257.20 L489.25,257.50 L490.00,257.80 L490.75,258.11 L491.51,258.41 L492.26,258.71 L493.01,259.02 L493.76,259.32 L494.51,259.62 L495.26,259.92 L496.01,260.22 L496.76,260.52 L497.52,260.82 L498.27,261.12 L499.02,261.41 L499.77,261.71 L500.53,262.01 L501.28,262.30 L502.04,262.59 L502.79,262.88 L503.54,263.17 L504.30,263.46 L505.05,263.75 L505.81,264.04 L506.57,264.32 L507.32,264.60 L508.08,264.88 L508.84,265.16 L509.60,265.44 L510.36,265.72 L511.12,265.99 L511.88,266.26 L512.64,266.53 L513.40,266.80 L514.17,267.06 L514.93,267.33 L515.69,267.59 L516.46,267.85 L517.22,268.10 L517.98,268.35 L518.74,268.60 L519.51,268.85 L520.27,269.10 L521.04,269.34 L521.81,269.58 L522.58,269.82 L523.34,270.06 L524.11,270.30 L524.88,270.53 L525.65,270.76 L526.42,270.99 L527.19,271.22 L527.97,271.45 L528.74,271.68 L529.51,271.90 L530.29,272.12 L531.06,272.34 L531.83,272.56 L532.61,272.78 L533.39,272.99 L534.16,273.21 L534.94,273.42 L535.71,273.63 L536.49,273.84 L537.27,274.05 L538.05,274.26 L538.83,274.47 L539.61,274.68 L540.39,274.88 L541.17,275.08 L541.95,275.29 L542.73,275.49 L543.51,275.69 L544.29,275.89 L545.07,276.09 L545.85,276.29 L546.63,276.49 L547.42,276.68 L548.20,276.88 L548.98,277.08 L549.76,277.27 L550.55,277.47 L551.33,277.66 L552.11,277.85 L552.90,278.05 L553.68,278.24 L554.46,278.43 L555.25,278.63 L556.03,278.82 L556.81,279.01 L557.60,279.20 L558.38,279.39 L559.17,279.58 L559.95,279.78" fill="none" stroke="#d82a3a" stroke-width="1.4"/>
<rect x="351.65" y="196.11" width="5.10" height="5.10" fill="#d10a0a" stroke="#1a1a1a" stroke-width="0.85"/>
<rect x="353.52" y="202.41" width="5.10" height="5.10" fill="#d10a0a" stroke="#1a1a1a" stroke-width="0.85"/>
<rect x="357.08" y="203.95" width="5.10" height="5.10" fill="#d10a0a" stroke="#1a1a1a" stroke-width="0.85"/>
<rect x="362.50" y="206.62" width="5.10" height="5.10" fill="#d10a0a" stroke="#1a1a1a" stroke-width="0.85"/>
<rect x="372.42" y="207.88" width="5.10" height="5.10" fill="#d10a0a" stroke="#1a1a1a" stroke-width="0.85"/>
<rect x="388.23" y="212.78" width="5.10" height="5.10" fill="#d10a0a" stroke="#1a1a1a" stroke-width="0.85"/>
<rect x="412.75" y="221.05" width="5.10" height="5.10" fill="#d10a0a" stroke="#1a1a1a" stroke-width="0.85"/>
<rect x="429.31" y="226.65" width="5.10" height="5.10" fill="#d10a0a" stroke="#1a1a1a" stroke-width="0.85"/>
<rect x="450.27" y="238.98" width="5.10" height="5.10" fill="#d10a0a" stroke="#1a1a1a" stroke-width="0.85"/>
<rect x="477.68" y="251.31" width="5.10" height="5.10" fill="#d10a0a" stroke="#1a1a1a" stroke-width="0.85"/>
<rect x="513.14" y="265.04" width="5.10" height="5.10" fill="#d10a0a" stroke="#1a1a1a" stroke-width="0.85"/>
<rect x="557.40" y="277.23" width="5.10" height="5.10" fill="#d10a0a" stroke="#1a1a1a" stroke-width="0.85"/>
<path d="M354.20,312.70 L354.60,311.91 L355.02,311.16 L355.50,310.48 L356.07,309.90 L356.84,309.39 L357.72,309.01 L358.66,308.73 L359.63,308.50 L360.55,308.29 L361.46,308.08 L362.36,307.89 L363.26,307.70 L364.16,307.53 L365.05,307.38 L365.87,307.25 L366.68,307.13 L367.50,307.02 L368.32,306.91 L369.15,306.82 L369.98,306.73 L370.81,306.65 L371.64,306.56 L372.47,306.49 L373.30,306.41 L374.14,306.33 L374.97,306.26 L375.81,306.17 L376.65,306.09 L377.49,306.01 L378.33,305.92 L379.17,305.83 L380.01,305.73 L380.85,305.63 L381.68,305.53 L382.52,305.42 L383.35,305.30 L384.18,305.18 L385.01,305.06 L385.84,304.93 L386.67,304.79 L387.49,304.65 L388.32,304.50 L389.14,304.35 L389.96,304.18 L390.78,304.01 L391.56,303.84 L392.34,303.67 L393.12,303.48 L393.89,303.29 L394.66,303.10 L395.44,302.90 L396.21,302.69 L396.98,302.48 L397.75,302.26 L398.51,302.04 L399.28,301.82 L400.05,301.59 L400.81,301.35 L401.58,301.12 L402.34,300.88 L403.10,300.63 L403.87,300.39 L404.63,300.14 L405.39,299.89 L406.15,299.64 L406.91,299.39 L407.67,299.13 L408.44,298.88 L409.20,298.62 L409.96,298.37 L410.72,298.11 L411.48,297.85 L412.24,297.60 L413.01,297.34 L413.77,297.09 L414.53,296.84 L415.30,296.59 L416.10,296.33 L416.90,296.07 L417.70,295.81 L418.50,295.56 L419.30,295.30 L420.10,295.04 L420.90,294.78 L421.69,294.52 L422.49,294.26 L423.29,293.99 L424.08,293.72 L424.87,293.45 L425.66,293.17 L426.45,292.89 L427.23,292.60 L428.01,292.30 L428.79,292.00 L429.56,291.69 L430.33,291.37 L431.10,291.04 L431.86,290.70 L432.59,290.37 L433.33,290.02 L434.05,289.67 L434.78,289.31 L435.50,288.94 L436.21,288.56 L436.93,288.18 L437.64,287.79 L438.35,287.39 L439.05,286.99 L439.75,286.58 L440.45,286.17 L441.15,285.75 L441.85,285.32 L442.54,284.90 L443.23,284.47 L443.92,284.03 L444.61,283.59 L445.30,283.15 L445.98,282.71 L446.67,282.27 L447.35,281.82 L448.04,281.37 L448.72,280.92 L449.40,280.48 L450.08,280.03 L450.77,279.58 L451.45,279.13 L452.13,278.68 L452.82,278.24 L453.50,277.79 L454.19,277.35 L454.88,276.90 L455.57,276.46 L456.26,276.02 L456.95,275.58 L457.64,275.15 L458.33,274.71 L459.03,274.28 L459.72,273.85 L460.41,273.42 L461.11,272.99 L461.80,272.57 L462.50,272.15 L463.20,271.72 L463.90,271.30 L464.60,270.88 L465.30,270.47 L466.00,270.05 L466.70,269.64 L467.40,269.23 L468.11,268.82 L468.81,268.41 L469.52,268.00 L470.23,267.60 L470.94,267.19 L471.64,266.79 L472.35,266.39 L473.06,266.00 L473.78,265.60 L474.49,265.21 L475.20,264.82 L475.92,264.43 L476.64,264.04 L477.35,263.65 L478.07,263.27 L478.79,262.88 L479.51,262.50 L480.23,262.12 L480.95,261.75 L481.66,261.38 L482.38,261.01 L483.10,260.64 L483.82,260.28 L484.54,259.91 L485.26,259.55 L485.98,259.19 L486.71,258.83 L487.43,258.48 L488.16,258.12 L488.88,257.77 L489.61,257.42 L490.34,257.07 L491.07,256.73 L491.80,256.38 L492.53,256.04 L493.27,255.70 L494.00,255.37 L494.74,255.03 L495.47,254.70 L496.21,254.37 L496.95,254.04 L497.69,253.71 L498.43,253.39 L499.17,253.07 L499.91,252.75 L500.65,252.43 L501.39,252.11 L502.14,251.80 L502.88,251.49 L503.63,251.18 L504.38,250.87 L505.13,250.57 L505.88,250.27 L506.63,249.97 L507.38,249.67 L508.13,249.38 L508.88,249.09 L509.63,248.80 L510.39,248.51 L511.14,248.23 L511.90,247.94 L512.66,247.66 L513.41,247.39 L514.17,247.11 L514.93,246.84 L515.69,246.57 L516.45,246.31 L517.22,246.04 L517.98,245.78 L518.74,245.52 L519.51,245.26 L520.27,245.01 L521.04,244.76 L521.80,244.51 L522.57,244.26 L523.34,244.02 L524.11,243.77 L524.88,243.53 L525.65,243.29 L526.42,243.05 L527.19,242.82 L527.96,242.59 L528.73,242.36 L529.51,242.13 L530.28,241.90 L531.05,241.67 L531.83,241.45 L532.60,241.22 L533.38,241.00 L534.16,240.78 L534.93,240.57 L535.71,240.35 L536.49,240.13 L537.27,239.92 L538.04,239.71 L538.82,239.50 L539.60,239.29 L540.38,239.08 L541.16,238.87 L541.94,238.66 L542.72,238.46 L543.50,238.25 L544.28,238.05 L545.07,237.85 L545.85,237.64 L546.63,237.44 L547.41,237.24 L548.19,237.04 L548.98,236.84 L549.76,236.64 L550.54,236.45 L551.33,236.25 L552.11,236.05 L552.89,235.86 L553.68,235.66 L554.46,235.47 L555.24,235.27 L556.03,235.08 L556.81,234.88 L557.60,234.69 L558.38,234.49 L559.17,234.30 L559.95,234.10" fill="none" stroke="#d82a3a" stroke-width="1.4"/>
<path d="M354.20,309.78 L357.15,315.09 L351.25,315.09 Z" fill="#d10a0a" stroke="#1a1a1a" stroke-width="0.9"/>
<path d="M356.07,306.98 L359.02,312.29 L353.12,312.29 Z" fill="#d10a0a" stroke="#1a1a1a" stroke-width="0.9"/>
<path d="M359.63,305.58 L362.58,310.89 L356.68,310.89 Z" fill="#d10a0a" stroke="#1a1a1a" stroke-width="0.9"/>
<path d="M365.05,304.46 L368.00,309.77 L362.10,309.77 Z" fill="#d10a0a" stroke="#1a1a1a" stroke-width="0.9"/>
<path d="M374.97,303.33 L377.92,308.64 L372.02,308.64 Z" fill="#d10a0a" stroke="#1a1a1a" stroke-width="0.9"/>
<path d="M390.78,301.09 L393.73,306.40 L387.83,306.40 Z" fill="#d10a0a" stroke="#1a1a1a" stroke-width="0.9"/>
<path d="M415.30,293.67 L418.25,298.98 L412.35,298.98 Z" fill="#d10a0a" stroke="#1a1a1a" stroke-width="0.9"/>
<path d="M431.86,287.78 L434.81,293.09 L428.91,293.09 Z" fill="#d10a0a" stroke="#1a1a1a" stroke-width="0.9"/>
<path d="M452.82,275.31 L455.77,280.62 L449.87,280.62 Z" fill="#d10a0a" stroke="#1a1a1a" stroke-width="0.9"/>
<path d="M480.23,259.20 L483.18,264.51 L477.28,264.51 Z" fill="#d10a0a" stroke="#1a1a1a" stroke-width="0.9"/>
<path d="M515.69,243.65 L518.64,248.96 L512.74,248.96 Z" fill="#d10a0a" stroke="#1a1a1a" stroke-width="0.9"/>
<path d="M559.95,231.18 L562.90,236.49 L557.00,236.49 Z" fill="#d10a0a" stroke="#1a1a1a" stroke-width="0.9"/>
<path d="M354.20,325.40 L354.18,326.92 L354.15,328.43 L354.13,329.94 L354.10,331.45 L354.08,332.94 L354.06,334.42 L354.04,335.88 L354.03,337.32 L354.01,338.74 L354.00,340.14 L353.99,341.51 L353.98,342.85 L353.98,344.16 L353.98,345.43 L353.98,346.67 L353.99,347.87 L354.00,349.02 L354.02,350.13 L354.04,351.18 L354.06,352.19 L354.10,353.14 L354.13,354.04 L354.18,354.88 L354.22,355.66 L354.28,356.37 L354.34,357.01 L354.41,357.58 L354.49,358.09 L354.57,358.51 L354.67,358.86 L354.77,359.13 L354.87,359.31 L354.99,359.41 L355.12,359.42 L355.25,359.34 L355.40,359.16 L355.55,358.89 L355.71,358.51 L355.89,358.04 L356.07,357.46 L356.29,356.70 L356.53,355.85 L356.80,354.94 L357.11,354.01 L357.48,353.09 L357.90,352.23 L358.39,351.45 L358.97,350.81 L359.63,350.32 L360.40,350.02 L361.25,349.89 L362.16,349.89 L363.11,349.99 L364.08,350.14 L365.05,350.32 L365.94,350.48 L366.80,350.62 L367.66,350.76 L368.50,350.89 L369.33,351.01 L370.15,351.13 L370.96,351.25 L371.77,351.36 L372.57,351.48 L373.37,351.60 L374.17,351.73 L374.97,351.86 L375.74,352.00 L376.52,352.14 L377.30,352.29 L378.08,352.44 L378.86,352.60 L379.65,352.76 L380.43,352.93 L381.22,353.09 L382.01,353.26 L382.80,353.42 L383.60,353.59 L384.39,353.75 L385.19,353.90 L385.99,354.05 L386.78,354.20 L387.58,354.34 L388.38,354.47 L389.18,354.59 L389.98,354.70 L390.78,354.80 L391.60,354.89 L392.41,354.97 L393.23,355.03 L394.04,355.09 L394.86,355.14 L395.67,355.17 L396.49,355.20 L397.30,355.22 L398.12,355.23 L398.94,355.24 L399.75,355.24 L400.57,355.23 L401.39,355.22 L402.20,355.20 L403.02,355.18 L403.84,355.16 L404.65,355.13 L405.47,355.10 L406.29,355.07 L407.11,355.04 L407.93,355.01 L408.75,354.97 L409.56,354.94 L410.38,354.91 L411.20,354.89 L412.02,354.86 L412.84,354.84 L413.66,354.82 L414.48,354.81 L415.30,354.80 L416.13,354.80 L416.96,354.80 L417.80,354.81 L418.63,354.82 L419.46,354.85 L420.30,354.88 L421.13,354.91 L421.96,354.95 L422.79,355.00 L423.62,355.06 L424.45,355.12 L425.28,355.19 L426.11,355.27 L426.93,355.36 L427.76,355.46 L428.58,355.56 L429.40,355.67 L430.22,355.79 L431.04,355.92 L431.86,356.06 L432.65,356.20 L433.44,356.35 L434.23,356.51 L435.01,356.68 L435.80,356.85 L436.58,357.03 L437.36,357.22 L438.14,357.41 L438.92,357.61 L439.70,357.81 L440.47,358.02 L441.25,358.23 L442.03,358.45 L442.80,358.67 L443.57,358.90 L444.35,359.13 L445.12,359.36 L445.89,359.60 L446.66,359.84 L447.43,360.08 L448.20,360.32 L448.97,360.57 L449.74,360.81 L450.51,361.06 L451.28,361.31 L452.05,361.55 L452.82,361.80 L453.59,362.05 L454.36,362.30 L455.14,362.54 L455.91,362.79 L456.68,363.04 L457.45,363.29 L458.23,363.53 L459.00,363.78 L459.77,364.03 L460.54,364.28 L461.31,364.54 L462.08,364.79 L462.85,365.04 L463.62,365.30 L464.39,365.56 L465.15,365.82 L465.92,366.08 L466.69,366.34 L467.45,366.61 L468.21,366.87 L468.97,367.14 L469.74,367.42 L470.50,367.69 L471.25,367.97 L472.01,368.25 L472.77,368.54 L473.52,368.83 L474.27,369.12 L475.02,369.41 L475.77,369.71 L476.52,370.02 L477.27,370.33 L478.01,370.64 L478.75,370.95 L479.49,371.27 L480.23,371.60 L480.97,371.93 L481.71,372.27 L482.45,372.61 L483.18,372.96 L483.92,373.31 L484.65,373.66 L485.38,374.02 L486.11,374.38 L486.83,374.75 L487.56,375.11 L488.28,375.48 L489.01,375.86 L489.73,376.23 L490.45,376.61 L491.17,376.99 L491.89,377.37 L492.61,377.76 L493.32,378.14 L494.04,378.53 L494.76,378.92 L495.47,379.31 L496.19,379.70 L496.91,380.09 L497.62,380.48 L498.34,380.87 L499.05,381.26 L499.77,381.65 L500.48,382.05 L501.20,382.44 L501.92,382.82 L502.63,383.21 L503.35,383.60 L504.07,383.98 L504.79,384.37 L505.50,384.75 L506.22,385.13 L506.95,385.51 L507.67,385.88 L508.39,386.26 L509.11,386.63 L509.84,386.99 L510.57,387.36 L511.29,387.72 L512.02,388.08 L512.75,388.43 L513.49,388.78 L514.22,389.12 L514.96,389.46 L515.69,389.80 L516.43,390.13 L517.18,390.46 L517.92,390.78 L518.66,391.10 L519.41,391.41 L520.16,391.72 L520.91,392.02 L521.67,392.32 L522.42,392.62 L523.18,392.91 L523.93,393.20 L524.69,393.49 L525.45,393.77 L526.22,394.04 L526.98,394.32 L527.75,394.59 L528.51,394.85 L529.28,395.12 L530.05,395.38 L530.82,395.63 L531.59,395.89 L532.37,396.14 L533.14,396.39 L533.92,396.63 L534.69,396.87 L535.47,397.11 L536.25,397.35 L537.03,397.58 L537.81,397.81 L538.59,398.04 L539.38,398.27 L540.16,398.50 L540.95,398.72 L541.73,398.94 L542.52,399.16 L543.31,399.38 L544.09,399.59 L544.88,399.81 L545.67,400.02 L546.46,400.23 L547.25,400.44 L548.04,400.65 L548.83,400.85 L549.63,401.06 L550.42,401.26 L551.21,401.47 L552.00,401.67 L552.80,401.87 L553.59,402.07 L554.39,402.27 L555.18,402.47 L555.97,402.67 L556.77,402.87 L557.56,403.07 L558.36,403.26 L559.15,403.46 L559.95,403.66" fill="none" stroke="#4586c6" stroke-width="1.4"/>
<rect x="351.65" y="322.85" width="5.10" height="5.10" fill="#1164c4" stroke="#1a1a1a" stroke-width="0.85"/>
<rect x="353.52" y="354.91" width="5.10" height="5.10" fill="#1164c4" stroke="#1a1a1a" stroke-width="0.85"/>
<rect x="357.08" y="347.77" width="5.10" height="5.10" fill="#1164c4" stroke="#1a1a1a" stroke-width="0.85"/>
<rect x="362.50" y="347.77" width="5.10" height="5.10" fill="#1164c4" stroke="#1a1a1a" stroke-width="0.85"/>
<rect x="372.42" y="349.31" width="5.10" height="5.10" fill="#1164c4" stroke="#1a1a1a" stroke-width="0.85"/>
<rect x="388.23" y="352.25" width="5.10" height="5.10" fill="#1164c4" stroke="#1a1a1a" stroke-width="0.85"/>
<rect x="412.75" y="352.25" width="5.10" height="5.10" fill="#1164c4" stroke="#1a1a1a" stroke-width="0.85"/>
<rect x="429.31" y="353.51" width="5.10" height="5.10" fill="#1164c4" stroke="#1a1a1a" stroke-width="0.85"/>
<rect x="450.27" y="359.25" width="5.10" height="5.10" fill="#1164c4" stroke="#1a1a1a" stroke-width="0.85"/>
<rect x="477.68" y="369.05" width="5.10" height="5.10" fill="#1164c4" stroke="#1a1a1a" stroke-width="0.85"/>
<rect x="513.14" y="387.25" width="5.10" height="5.10" fill="#1164c4" stroke="#1a1a1a" stroke-width="0.85"/>
<rect x="557.40" y="401.11" width="5.10" height="5.10" fill="#1164c4" stroke="#1a1a1a" stroke-width="0.85"/>
<path d="M354.20,351.44 L354.26,352.38 L354.34,353.31 L354.46,354.21 L354.62,355.06 L354.84,355.86 L355.15,356.58 L355.55,357.21 L356.07,357.74 L356.83,358.23 L357.72,358.61 L358.67,358.94 L359.63,359.28 L360.45,359.63 L361.24,360.02 L362.01,360.43 L362.77,360.84 L363.52,361.24 L364.28,361.61 L365.05,361.94 L365.82,362.20 L366.60,362.41 L367.41,362.57 L368.22,362.70 L369.05,362.79 L369.88,362.87 L370.73,362.92 L371.58,362.97 L372.43,363.01 L373.28,363.06 L374.13,363.12 L374.97,363.20 L375.80,363.30 L376.63,363.43 L377.45,363.57 L378.26,363.74 L379.07,363.93 L379.87,364.14 L380.67,364.36 L381.46,364.60 L382.25,364.85 L383.04,365.11 L383.82,365.38 L384.60,365.67 L385.38,365.96 L386.15,366.26 L386.92,366.56 L387.70,366.86 L388.47,367.17 L389.24,367.48 L390.01,367.79 L390.78,368.10 L391.54,368.40 L392.29,368.69 L393.05,368.98 L393.81,369.27 L394.56,369.55 L395.32,369.84 L396.08,370.12 L396.84,370.39 L397.60,370.67 L398.36,370.94 L399.12,371.20 L399.89,371.47 L400.65,371.73 L401.41,372.00 L402.18,372.25 L402.94,372.51 L403.71,372.76 L404.48,373.02 L405.25,373.27 L406.01,373.52 L406.78,373.76 L407.55,374.01 L408.32,374.25 L409.10,374.49 L409.87,374.73 L410.64,374.97 L411.42,375.20 L412.19,375.44 L412.97,375.67 L413.74,375.90 L414.52,376.13 L415.30,376.36 L416.10,376.59 L416.90,376.83 L417.71,377.06 L418.51,377.30 L419.31,377.53 L420.11,377.77 L420.91,378.01 L421.71,378.25 L422.51,378.50 L423.31,378.75 L424.10,379.01 L424.89,379.27 L425.68,379.54 L426.47,379.81 L427.25,380.09 L428.03,380.38 L428.80,380.68 L429.57,380.98 L430.34,381.30 L431.10,381.62 L431.86,381.96 L432.59,382.30 L433.32,382.65 L434.04,383.01 L434.76,383.37 L435.47,383.75 L436.18,384.13 L436.89,384.52 L437.59,384.92 L438.29,385.33 L438.99,385.74 L439.69,386.15 L440.38,386.57 L441.07,387.00 L441.76,387.42 L442.45,387.85 L443.14,388.29 L443.83,388.72 L444.52,389.16 L445.20,389.59 L445.89,390.03 L446.58,390.47 L447.26,390.90 L447.95,391.34 L448.64,391.77 L449.33,392.20 L450.02,392.62 L450.72,393.04 L451.42,393.46 L452.12,393.87 L452.82,394.28 L453.52,394.68 L454.23,395.08 L454.95,395.47 L455.66,395.85 L456.38,396.23 L457.10,396.61 L457.82,396.97 L458.55,397.34 L459.28,397.70 L460.01,398.05 L460.74,398.40 L461.47,398.75 L462.21,399.09 L462.95,399.43 L463.69,399.77 L464.43,400.10 L465.17,400.43 L465.92,400.75 L466.66,401.07 L467.41,401.39 L468.16,401.71 L468.91,402.03 L469.66,402.34 L470.41,402.65 L471.16,402.96 L471.92,403.27 L472.67,403.57 L473.43,403.88 L474.18,404.18 L474.94,404.49 L475.69,404.79 L476.45,405.09 L477.21,405.39 L477.96,405.69 L478.72,406.00 L479.48,406.30 L480.23,406.60 L480.99,406.90 L481.74,407.20 L482.49,407.51 L483.24,407.81 L483.99,408.11 L484.75,408.42 L485.50,408.72 L486.25,409.02 L487.00,409.33 L487.75,409.63 L488.50,409.94 L489.25,410.24 L490.00,410.54 L490.75,410.85 L491.51,411.15 L492.26,411.45 L493.01,411.76 L493.76,412.06 L494.51,412.36 L495.26,412.66 L496.01,412.96 L496.76,413.26 L497.52,413.56 L498.27,413.85 L499.02,414.15 L499.77,414.45 L500.53,414.74 L501.28,415.04 L502.04,415.33 L502.79,415.62 L503.54,415.91 L504.30,416.20 L505.06,416.48 L505.81,416.77 L506.57,417.05 L507.32,417.34 L508.08,417.62 L508.84,417.90 L509.60,418.17 L510.36,418.45 L511.12,418.72 L511.88,418.99 L512.64,419.26 L513.40,419.53 L514.17,419.80 L514.93,420.06 L515.69,420.32 L516.46,420.58 L517.22,420.83 L517.98,421.08 L518.74,421.33 L519.51,421.58 L520.28,421.83 L521.04,422.07 L521.81,422.31 L522.58,422.55 L523.34,422.79 L524.11,423.03 L524.88,423.26 L525.65,423.49 L526.42,423.72 L527.19,423.95 L527.97,424.18 L528.74,424.40 L529.51,424.63 L530.29,424.85 L531.06,425.07 L531.83,425.29 L532.61,425.51 L533.39,425.72 L534.16,425.94 L534.94,426.15 L535.72,426.36 L536.49,426.57 L537.27,426.78 L538.05,426.99 L538.83,427.20 L539.61,427.40 L540.39,427.61 L541.17,427.81 L541.95,428.01 L542.73,428.22 L543.51,428.42 L544.29,428.62 L545.07,428.82 L545.85,429.01 L546.63,429.21 L547.42,429.41 L548.20,429.61 L548.98,429.80 L549.76,430.00 L550.55,430.19 L551.33,430.39 L552.11,430.58 L552.90,430.77 L553.68,430.97 L554.46,431.16 L555.25,431.35 L556.03,431.54 L556.81,431.73 L557.60,431.93 L558.38,432.12 L559.17,432.31 L559.95,432.50" fill="none" stroke="#d82a3a" stroke-width="1.4"/>
<rect x="351.65" y="348.89" width="5.10" height="5.10" fill="#d10a0a" stroke="#1a1a1a" stroke-width="0.85"/>
<rect x="353.52" y="355.19" width="5.10" height="5.10" fill="#d10a0a" stroke="#1a1a1a" stroke-width="0.85"/>
<rect x="357.08" y="356.73" width="5.10" height="5.10" fill="#d10a0a" stroke="#1a1a1a" stroke-width="0.85"/>
<rect x="362.50" y="359.39" width="5.10" height="5.10" fill="#d10a0a" stroke="#1a1a1a" stroke-width="0.85"/>
<rect x="372.42" y="360.65" width="5.10" height="5.10" fill="#d10a0a" stroke="#1a1a1a" stroke-width="0.85"/>
<rect x="388.23" y="365.55" width="5.10" height="5.10" fill="#d10a0a" stroke="#1a1a1a" stroke-width="0.85"/>
<rect x="412.75" y="373.81" width="5.10" height="5.10" fill="#d10a0a" stroke="#1a1a1a" stroke-width="0.85"/>
<rect x="429.31" y="379.41" width="5.10" height="5.10" fill="#d10a0a" stroke="#1a1a1a" stroke-width="0.85"/>
<rect x="450.27" y="391.73" width="5.10" height="5.10" fill="#d10a0a" stroke="#1a1a1a" stroke-width="0.85"/>
<rect x="477.68" y="404.05" width="5.10" height="5.10" fill="#d10a0a" stroke="#1a1a1a" stroke-width="0.85"/>
<rect x="513.14" y="417.77" width="5.10" height="5.10" fill="#d10a0a" stroke="#1a1a1a" stroke-width="0.85"/>
<rect x="557.40" y="429.95" width="5.10" height="5.10" fill="#d10a0a" stroke="#1a1a1a" stroke-width="0.85"/>
<path d="M354.20,344.72 L354.29,345.73 L354.40,346.72 L354.56,347.67 L354.78,348.55 L355.10,349.35 L355.52,350.04 L356.07,350.60 L356.83,351.06 L357.72,351.40 L358.67,351.69 L359.63,352.00 L360.45,352.32 L361.25,352.69 L362.02,353.08 L362.77,353.47 L363.53,353.86 L364.28,354.21 L365.05,354.52 L365.82,354.76 L366.61,354.95 L367.41,355.09 L368.23,355.19 L369.05,355.26 L369.89,355.30 L370.73,355.33 L371.58,355.36 L372.43,355.37 L373.28,355.40 L374.13,355.44 L374.97,355.50 L375.80,355.59 L376.62,355.70 L377.44,355.84 L378.25,356.00 L379.06,356.18 L379.86,356.38 L380.65,356.60 L381.44,356.84 L382.23,357.09 L383.02,357.35 L383.80,357.62 L384.58,357.90 L385.36,358.19 L386.13,358.48 L386.91,358.78 L387.68,359.08 L388.46,359.38 L389.23,359.68 L390.01,359.97 L390.78,360.26 L391.56,360.54 L392.34,360.82 L393.12,361.09 L393.90,361.35 L394.68,361.61 L395.47,361.86 L396.26,362.11 L397.04,362.35 L397.83,362.59 L398.62,362.82 L399.41,363.05 L400.20,363.28 L400.99,363.50 L401.79,363.72 L402.58,363.94 L403.37,364.16 L404.17,364.38 L404.96,364.59 L405.76,364.80 L406.55,365.02 L407.35,365.23 L408.15,365.44 L408.94,365.65 L409.74,365.87 L410.53,366.08 L411.33,366.29 L412.12,366.51 L412.92,366.73 L413.71,366.95 L414.51,367.17 L415.30,367.40 L416.10,367.63 L416.91,367.87 L417.71,368.11 L418.51,368.35 L419.31,368.60 L420.11,368.86 L420.91,369.11 L421.71,369.37 L422.50,369.64 L423.30,369.91 L424.09,370.19 L424.87,370.47 L425.66,370.76 L426.45,371.05 L427.23,371.35 L428.01,371.66 L428.78,371.97 L429.56,372.29 L430.33,372.61 L431.09,372.94 L431.86,373.28 L432.60,373.62 L433.34,373.96 L434.07,374.31 L434.81,374.66 L435.54,375.02 L436.26,375.39 L436.99,375.76 L437.72,376.13 L438.44,376.51 L439.16,376.89 L439.88,377.27 L440.60,377.66 L441.31,378.04 L442.03,378.43 L442.75,378.82 L443.46,379.22 L444.18,379.61 L444.89,380.00 L445.61,380.39 L446.33,380.78 L447.04,381.17 L447.76,381.56 L448.48,381.95 L449.20,382.33 L449.92,382.71 L450.64,383.09 L451.36,383.46 L452.09,383.83 L452.82,384.20 L453.53,384.56 L454.25,384.91 L454.97,385.25 L455.70,385.59 L456.42,385.93 L457.15,386.27 L457.88,386.60 L458.61,386.93 L459.34,387.25 L460.07,387.57 L460.81,387.89 L461.54,388.20 L462.28,388.51 L463.02,388.82 L463.76,389.12 L464.50,389.42 L465.24,389.72 L465.99,390.02 L466.73,390.32 L467.48,390.61 L468.22,390.90 L468.97,391.19 L469.72,391.48 L470.46,391.77 L471.21,392.05 L471.96,392.33 L472.71,392.62 L473.47,392.90 L474.22,393.18 L474.97,393.46 L475.72,393.73 L476.47,394.01 L477.22,394.29 L477.98,394.57 L478.73,394.85 L479.48,395.12 L480.23,395.40 L480.99,395.68 L481.74,395.96 L482.50,396.24 L483.25,396.52 L484.01,396.80 L484.76,397.08 L485.51,397.35 L486.27,397.63 L487.02,397.91 L487.78,398.19 L488.53,398.47 L489.28,398.75 L490.04,399.03 L490.79,399.31 L491.55,399.59 L492.30,399.87 L493.05,400.15 L493.81,400.43 L494.56,400.71 L495.31,400.99 L496.07,401.27 L496.82,401.55 L497.57,401.83 L498.33,402.11 L499.08,402.39 L499.84,402.67 L500.59,402.94 L501.34,403.22 L502.10,403.50 L502.85,403.78 L503.61,404.05 L504.36,404.33 L505.11,404.61 L505.87,404.88 L506.62,405.16 L507.38,405.43 L508.13,405.71 L508.89,405.98 L509.64,406.25 L510.40,406.53 L511.15,406.80 L511.91,407.07 L512.67,407.34 L513.42,407.61 L514.18,407.88 L514.94,408.15 L515.69,408.42 L516.45,408.69 L517.21,408.96 L517.97,409.22 L518.73,409.49 L519.49,409.76 L520.25,410.02 L521.01,410.29 L521.77,410.55 L522.53,410.81 L523.29,411.08 L524.05,411.34 L524.81,411.60 L525.57,411.86 L526.33,412.12 L527.09,412.38 L527.85,412.64 L528.61,412.90 L529.38,413.16 L530.14,413.42 L530.90,413.68 L531.66,413.93 L532.43,414.19 L533.19,414.45 L533.95,414.70 L534.71,414.96 L535.48,415.22 L536.24,415.47 L537.00,415.73 L537.77,415.98 L538.53,416.23 L539.30,416.49 L540.06,416.74 L540.82,416.99 L541.59,417.25 L542.35,417.50 L543.12,417.75 L543.88,418.00 L544.65,418.26 L545.41,418.51 L546.18,418.76 L546.94,419.01 L547.70,419.26 L548.47,419.51 L549.23,419.76 L550.00,420.01 L550.77,420.26 L551.53,420.51 L552.30,420.76 L553.06,421.01 L553.83,421.26 L554.59,421.51 L555.36,421.76 L556.12,422.01 L556.89,422.26 L557.65,422.51 L558.42,422.76 L559.18,423.01 L559.95,423.26" fill="none" stroke="#d82a3a" stroke-width="1.4"/>
<path d="M354.20,341.80 L357.15,347.11 L351.25,347.11 Z" fill="#d10a0a" stroke="#1a1a1a" stroke-width="0.9"/>
<path d="M356.07,347.68 L359.02,352.99 L353.12,352.99 Z" fill="#d10a0a" stroke="#1a1a1a" stroke-width="0.9"/>
<path d="M359.63,349.08 L362.58,354.39 L356.68,354.39 Z" fill="#d10a0a" stroke="#1a1a1a" stroke-width="0.9"/>
<path d="M365.05,351.60 L368.00,356.91 L362.10,356.91 Z" fill="#d10a0a" stroke="#1a1a1a" stroke-width="0.9"/>
<path d="M374.97,352.58 L377.92,357.89 L372.02,357.89 Z" fill="#d10a0a" stroke="#1a1a1a" stroke-width="0.9"/>
<path d="M390.78,357.34 L393.73,362.65 L387.83,362.65 Z" fill="#d10a0a" stroke="#1a1a1a" stroke-width="0.9"/>
<path d="M415.30,364.48 L418.25,369.79 L412.35,369.79 Z" fill="#d10a0a" stroke="#1a1a1a" stroke-width="0.9"/>
<path d="M431.86,370.36 L434.81,375.67 L428.91,375.67 Z" fill="#d10a0a" stroke="#1a1a1a" stroke-width="0.9"/>
<path d="M452.82,381.28 L455.77,386.59 L449.87,386.59 Z" fill="#d10a0a" stroke="#1a1a1a" stroke-width="0.9"/>
<path d="M480.23,392.48 L483.18,397.79 L477.28,397.79 Z" fill="#d10a0a" stroke="#1a1a1a" stroke-width="0.9"/>
<path d="M515.69,405.50 L518.64,410.81 L512.74,410.81 Z" fill="#d10a0a" stroke="#1a1a1a" stroke-width="0.9"/>
<path d="M559.95,420.34 L562.90,425.65 L557.00,425.65 Z" fill="#d10a0a" stroke="#1a1a1a" stroke-width="0.9"/>
<text x="362.4" y="38.5" class="pl">A</text>
<text x="362.6" y="192.6" class="pl">B</text>
<text x="361.8" y="341.3" class="pl">C</text>
<line x1="508.6" y1="39.00" x2="521.6" y2="39.00" stroke="#4586c6" stroke-width="1.3"/>
<rect x="513.05" y="36.75" width="4.50" height="4.50" fill="#1164c4" stroke="#1a1a1a" stroke-width="0.85"/>
<text x="522.6" y="40.90" class="lg">Y(I)</text>
<line x1="508.6" y1="51.00" x2="521.6" y2="51.00" stroke="#333333" stroke-width="1.3"/>
<rect x="513.05" y="48.75" width="4.50" height="4.50" fill="#050505" stroke="#1a1a1a" stroke-width="0.85"/>
<text x="522.6" y="52.90" class="lg">Y(NA)</text>
<line x1="508.6" y1="62.80" x2="521.6" y2="62.80" stroke="#d82a3a" stroke-width="1.3"/>
<path d="M515.30,60.62 L517.80,65.12 L512.80,65.12 Z" fill="#d10a0a" stroke="#1a1a1a" stroke-width="0.9"/>
<text x="522.6" y="64.70" class="lg">Y(ND)</text>
<line x1="508.6" y1="191.80" x2="521.6" y2="191.80" stroke="#d82a3a" stroke-width="1.3"/>
<rect x="513.05" y="189.55" width="4.50" height="4.50" fill="#d10a0a" stroke="#1a1a1a" stroke-width="0.85"/>
<text x="522.6" y="193.70" class="lg">Y(II)</text>
<line x1="508.6" y1="203.10" x2="521.6" y2="203.10" stroke="#333333" stroke-width="1.3"/>
<rect x="513.05" y="200.85" width="4.50" height="4.50" fill="#050505" stroke="#1a1a1a" stroke-width="0.85"/>
<text x="522.6" y="205.00" class="lg">Y(NO)</text>
<line x1="508.6" y1="215.00" x2="521.6" y2="215.00" stroke="#d82a3a" stroke-width="1.3"/>
<path d="M515.30,212.83 L517.80,217.33 L512.80,217.33 Z" fill="#d10a0a" stroke="#1a1a1a" stroke-width="0.9"/>
<text x="522.6" y="216.90" class="lg">Y(NPQ)</text>
<line x1="508.6" y1="338.90" x2="521.6" y2="338.90" stroke="#4586c6" stroke-width="1.3"/>
<rect x="513.05" y="336.65" width="4.50" height="4.50" fill="#1164c4" stroke="#1a1a1a" stroke-width="0.85"/>
<text x="522.6" y="340.80" class="lg">Y(I)</text>
<line x1="508.6" y1="349.40" x2="521.6" y2="349.40" stroke="#d82a3a" stroke-width="1.3"/>
<rect x="513.05" y="347.15" width="4.50" height="4.50" fill="#d10a0a" stroke="#1a1a1a" stroke-width="0.85"/>
<text x="522.6" y="351.30" class="lg">Y(II)</text>
<line x1="508.6" y1="359.20" x2="521.6" y2="359.20" stroke="#d82a3a" stroke-width="1.3"/>
<path d="M515.30,357.02 L517.80,361.52 L512.80,361.52 Z" fill="#d10a0a" stroke="#1a1a1a" stroke-width="0.9"/>
<text x="522.6" y="361.10" class="lg">Y(II)corr</text>
<text transform="translate(316.0,90.45) rotate(-90)" class="at" text-anchor="middle">Complementary PSI</text>
<text transform="translate(326.6,90.35) rotate(-90)" class="at" text-anchor="middle">quantum yields</text>
<text transform="translate(316.0,241.2) rotate(-90)" class="at" text-anchor="middle">Complementary PSII</text>
<text transform="translate(326.6,242.5) rotate(-90)" class="at" text-anchor="middle">quantum yields</text>
<text transform="translate(326.6,395.3) rotate(-90)" class="at" text-anchor="middle">Quantum yield</text>
<text x="420.2" y="494.5" class="par">PAR,<tspan x="449.1">μ</tspan><tspan x="454.4" font-size="11.6">mol</tspan><tspan x="473.4">/</tspan><tspan x="477.6">(</tspan><tspan x="480.3">m</tspan><tspan x="490.2" y="488.0" font-size="5" style="stroke-width:0">2</tspan><tspan x="493.8" y="494.5">s)</tspan></text>
</svg>
</body></html>
